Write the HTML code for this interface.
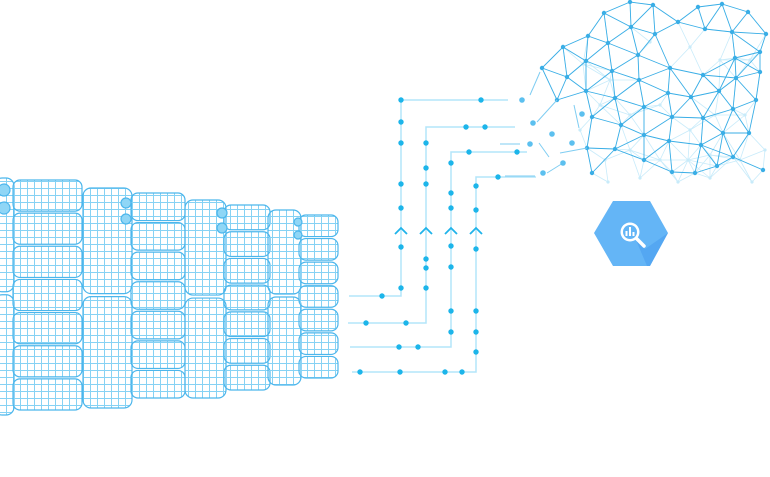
<!DOCTYPE html>
<html><head><meta charset="utf-8"><style>
html,body{margin:0;padding:0;background:#fff;width:770px;height:477px;overflow:hidden}
svg{display:block}
</style></head><body>
<svg id="s" width="770" height="477" viewBox="0 0 770 477" xmlns="http://www.w3.org/2000/svg">
<defs>
<pattern id="g" width="7" height="7" patternUnits="userSpaceOnUse">
<path d="M6.5 0V7M0 6.5H7" stroke="#86d2f4" stroke-width="1" fill="none"/>
</pattern>
</defs>
<g id="servers" fill="url(#g)" stroke="#4cb6ec" stroke-width="1.2"></g>
<g id="paths" fill="none" stroke="#b3e5fa" stroke-width="1.5">
<polyline points="349,296 401,296 401,100 508,100"/>
<polyline points="348,323 426,323 426,127 515,127"/>
<polyline points="350,347 451,347 451,152 527,152"/>
<polyline points="352,372 476,372 476,177 536,177"/>
</g>
<g fill="none" stroke="#1fb3ea" stroke-width="1.8">
<polyline points="395,234 401,228 407,234"/>
<polyline points="420,234 426,228 432,234"/>
<polyline points="445,234 451,228 457,234"/>
<polyline points="470,234 476,228 482,234"/>
</g>
<g id="dots" fill="#1cb5ea"></g>
<g id="cloud"></g>
<polygon points="594,233 613,201 650,201 668,233 650,266 613,266" fill="#64b5f6"/>
<polygon points="636,240 645,249 668,233 650,266 647,266" fill="#4a9ff0" opacity="0.6"/>
<circle cx="630" cy="232" r="9.5" fill="#fff"/>
<circle cx="630" cy="232" r="7" fill="#64b5f6"/>
<line x1="637" y1="239" x2="644" y2="246" stroke="#fff" stroke-width="3.5" stroke-linecap="round"/>
<rect x="625.5" y="231" width="2" height="5" fill="#fff"/>
<rect x="629" y="227" width="2" height="9" fill="#fff"/>
<rect x="632.5" y="232" width="2" height="4" fill="#fff"/>
</svg>
<script>
var NS="http://www.w3.org/2000/svg";
function el(p,t,a){var e=document.createElementNS(NS,t);for(var k in a)e.setAttribute(k,a[k]);p.appendChild(e);return e;}
var sv=document.getElementById('servers');
var racks=[
 {cx:-6,cw:20,cy:178,ch:237,sx:13,sw:69,sy:180,sh:232,d:[[4,190,6],[4,208,6]]},
 {cx:83,cw:49,cy:188,ch:220,sx:131,sw:54,sy:193,sh:207,d:[[126,203,5],[126,219,5]]},
 {cx:185,cw:41,cy:200,ch:198,sx:224,sw:46,sy:205,sh:187,d:[[222,213,5],[222,228,5]]},
 {cx:268,cw:33,cy:210,ch:175,sx:299,sw:39,sy:215,sh:165,d:[[298,222,4],[298,235,4]]}
];
racks.forEach(function(r){
 var h1=r.ch*0.48;
 el(sv,'rect',{x:r.cx,y:r.cy,width:r.cw,height:h1,rx:8});
 el(sv,'rect',{x:r.cx,y:r.cy+h1+3,width:r.cw,height:r.ch-h1-3,rx:8});
 var n=7,h=r.sh/n;
 for(var i=0;i<n;i++)el(sv,'rect',{x:r.sx,y:r.sy+i*h,width:r.sw,height:h-2,rx:7});
 r.d.forEach(function(d){el(sv,'circle',{cx:d[0],cy:d[1],r:d[2],fill:'#8fd6f6'});});
});
var dots=[[401,100],[481,100],[401,122],[401,143],[401,184],[401,208],[401,247],[401,288],[382,296],
[466,127],[485,127],[426,143],[426,168],[426,184],[426,259],[426,268],[426,288],[366,323],[406,323],
[469,152],[517,152],[451,163],[451,193],[451,208],[451,246],[451,267],[451,311],[451,332],[399,347],[418,347],
[498,177],[476,186],[476,210],[476,249],[476,311],[476,332],[476,352],[360,372],[400,372],[445,372],[462,372]];
var dg=document.getElementById('dots');
dots.forEach(function(d){el(dg,'circle',{cx:d[0],cy:d[1],r:2.7});});
var cl=document.getElementById('cloud');
var N=[[563,47],[604,13],[630,2],[653,5],[698,7],[722,4],[748,12],
[588,36],[631,27],[655,34],[678,22],[705,29],[732,32],[766,34],
[542,68],[567,77],[586,61],[608,43],[638,55],[670,68],[703,75],[735,58],[760,52],
[557,100],[586,91],[612,71],[639,80],[668,93],[691,97],[719,91],[736,78],[760,72],
[592,117],[615,98],[644,107],[672,117],[703,118],[733,109],[756,100],
[587,148],[621,125],[644,135],[669,141],[701,145],[723,133],[749,133],
[592,173],[615,149],[644,160],[672,172],[695,173],[717,166],[733,157],[763,170]];
var F=[[583,64],[610,80],[650,42],[690,47],[720,60],[750,60],[600,105],[630,115],[660,105],[690,130],[715,115],[745,115],[605,160],[630,150],[660,160],[688,160],[710,155],[740,160],[608,182],[640,178],[678,182],[710,178],[752,182],[580,130],[765,150]];
function mesh(P,d,col,w,r){
 for(var i=0;i<P.length;i++)for(var j=i+1;j<P.length;j++){
  var dx=P[i][0]-P[j][0],dy=P[i][1]-P[j][1];
  if(dx*dx+dy*dy<d*d)el(cl,'line',{x1:P[i][0],y1:P[i][1],x2:P[j][0],y2:P[j][1],stroke:col,'stroke-width':w});
 }
 P.forEach(function(p){el(cl,'circle',{cx:p[0],cy:p[1],r:r,fill:col});});
}
mesh(F.concat(N),32,'#c8ebfa',0.8,1.6);
mesh(N,38,'#3aaee6',0.9,2.2);
[[530,95,540,72],[574,105,579,128],[539,143,549,157],[537,122,557,100],[560,153,587,148],[547,173,563,163],[500,144,520,144],[505,176,535,176]].forEach(function(l){
 el(cl,'line',{x1:l[0],y1:l[1],x2:l[2],y2:l[3],stroke:'#7fcdf2','stroke-width':1});});
[[522,100],[533,123],[552,134],[530,144],[572,143],[582,114],[563,163],[543,173]].forEach(function(p){
 el(cl,'circle',{cx:p[0],cy:p[1],r:2.8,fill:'#5cc0ef'});});
</script>
</body></html>
